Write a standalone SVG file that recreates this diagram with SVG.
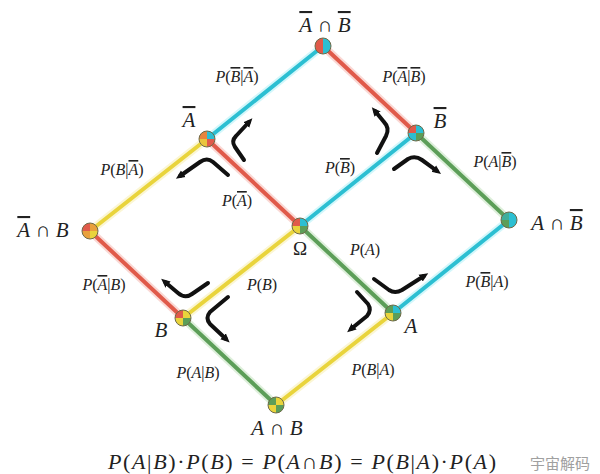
<svg xmlns="http://www.w3.org/2000/svg" xmlns:xlink="http://www.w3.org/1999/xlink" width="600" height="474" viewBox="0 0 600 474">
<style>
  .glow { stroke-width: 8; stroke-linecap: round; fill: none; opacity: 0.45; }
  .edge { stroke-width: 4; stroke-linecap: round; fill: none; }
  .red { stroke: #e05a4a; }
  .cyan { stroke: #2cbfd2; }
  .yel { stroke: #e9d43c; }
  .grn { stroke: #5c9e58; }
  .gred { stroke: #f4a9a0; }
  .gcyan { stroke: #9eeef7; }
  .gyel { stroke: #f7eca0; }
  .ggrn { stroke: #b5dcb0; }
  .ring { fill: none; stroke: #6e6a48; stroke-width: 1; }
  .arr { fill: none; stroke: #111; stroke-width: 4; stroke-linecap: round; stroke-linejoin: round; marker-end: url(#ah); }
  text { font-family: "Liberation Serif", "DejaVu Serif", serif; fill: #222; }
  .lab { font-size: 16px; text-anchor: middle; }
  .big { font-size: 21px; text-anchor: middle; }
  .it { font-style: italic; }
  .ov { text-decoration: overline; }
</style>
<defs>
  <path id="qTL" d="M0,0 L-8,0 A8,8 0 0 1 0,-8 Z"/>
  <path id="qTR" d="M0,0 L0,-8 A8,8 0 0 1 8,0 Z"/>
  <path id="qBR" d="M0,0 L8,0 A8,8 0 0 1 0,8 Z"/>
  <path id="qBL" d="M0,0 L0,8 A8,8 0 0 1 -8,0 Z"/>
  <marker id="ah" markerUnits="userSpaceOnUse" markerWidth="10" markerHeight="10" refX="4" refY="5" orient="auto">
    <path d="M0,1 L9,5 L0,9 Z" fill="#111"/>
  </marker>
</defs>
<rect width="600" height="474" fill="#ffffff"/>

<g id="connectors">
  <g id="glows">
    <line class="glow gcyan" x1="323" y1="46" x2="207" y2="139"/>
    <line class="glow gred" x1="323" y1="46" x2="416" y2="133"/>
    <line class="glow gred" x1="207" y1="139" x2="300" y2="226"/>
    <line class="glow gyel" x1="207" y1="139" x2="90" y2="231"/>
    <line class="glow gcyan" x1="416" y1="133" x2="300" y2="226"/>
    <line class="glow ggrn" x1="416" y1="133" x2="509" y2="220"/>
    <line class="glow ggrn" x1="300" y1="226" x2="393" y2="313"/>
    <line class="glow gyel" x1="300" y1="226" x2="183" y2="318"/>
    <line class="glow gred" x1="90" y1="231" x2="183" y2="318"/>
    <line class="glow gcyan" x1="509" y1="220" x2="393" y2="313"/>
    <line class="glow ggrn" x1="183" y1="318" x2="276" y2="405"/>
    <line class="glow gyel" x1="393" y1="313" x2="276" y2="405"/>
  </g>
  <line id="e-top-nA" class="edge cyan" x1="323" y1="46" x2="207" y2="139"/>
  <line id="e-top-nB" class="edge red" x1="323" y1="46" x2="416" y2="133"/>
  <line id="e-nA-omega" class="edge red" x1="207" y1="139" x2="300" y2="226"/>
  <line id="e-nA-nAB" class="edge yel" x1="207" y1="139" x2="90" y2="231"/>
  <line id="e-nB-omega" class="edge cyan" x1="416" y1="133" x2="300" y2="226"/>
  <line id="e-nB-AnB" class="edge grn" x1="416" y1="133" x2="509" y2="220"/>
  <line id="e-omega-A" class="edge grn" x1="300" y1="226" x2="393" y2="313"/>
  <line id="e-omega-B" class="edge yel" x1="300" y1="226" x2="183" y2="318"/>
  <line id="e-nAB-B" class="edge red" x1="90" y1="231" x2="183" y2="318"/>
  <line id="e-AnB-A" class="edge cyan" x1="509" y1="220" x2="393" y2="313"/>
  <line id="e-B-AB" class="edge grn" x1="183" y1="318" x2="276" y2="405"/>
  <line id="e-A-AB" class="edge yel" x1="393" y1="313" x2="276" y2="405"/>
</g>

<g id="flow-arrows">
  <path class="arr" d="M244,160 L235,147 Q231,141 236,136 L249,122"/>
  <path class="arr" d="M228,175 L213,162 Q207,157 200,162 L180,176"/>
  <path class="arr" d="M377,153 L386,136 Q390,128 384,122 L375,111"/>
  <path class="arr" d="M394,169 L408,159 Q415,155 422,160 L437,171"/>
  <path class="arr" d="M208,283 L192,294 Q185,299 178,293 L165,282"/>
  <path class="arr" d="M228,297 L210,312 Q205,318 210,324 L226,339"/>
  <path class="arr" d="M374,279 L389,290 Q395,294 402,290 L424,276"/>
  <path class="arr" d="M357,292 L368,304 Q372,310 367,316 L351,329"/>
</g>

<g id="node-notA-notB" transform="translate(323,46)">
  <use href="#qTL" fill="#e05a4a"/><use href="#qTR" fill="#2cbfd2"/><use href="#qBR" fill="#2cbfd2"/><use href="#qBL" fill="#e05a4a"/>
  <circle class="ring" r="8"/>
</g>
<g id="node-notA" transform="translate(207,139)">
  <use href="#qTL" fill="#e8843e"/><use href="#qTR" fill="#2cbfd2"/><use href="#qBR" fill="#e05a4a"/><use href="#qBL" fill="#e9c43c"/>
  <circle class="ring" r="8"/>
</g>
<g id="node-notB" transform="translate(416,133)">
  <use href="#qTL" fill="#e05a4a"/><use href="#qTR" fill="#2cbfd2"/><use href="#qBR" fill="#5c9e58"/><use href="#qBL" fill="#2cbfd2"/>
  <circle class="ring" r="8"/>
</g>
<g id="node-notA-B" transform="translate(90,231)">
  <use href="#qTL" fill="#e05a4a"/><use href="#qTR" fill="#e9a03c"/><use href="#qBR" fill="#e9d43c"/><use href="#qBL" fill="#e9a03c"/>
  <circle class="ring" r="8"/>
</g>
<g id="node-omega" transform="translate(300,226)">
  <use href="#qTL" fill="#e05a4a"/><use href="#qTR" fill="#2cbfd2"/><use href="#qBR" fill="#5c9e58"/><use href="#qBL" fill="#e9d43c"/>
  <circle class="ring" r="8"/>
</g>
<g id="node-A-notB" transform="translate(509,220)">
  <use href="#qTL" fill="#3fae9a"/><use href="#qTR" fill="#2cbfd2"/><use href="#qBR" fill="#2cbfd2"/><use href="#qBL" fill="#5c9e58"/>
  <circle class="ring" r="8"/>
</g>
<g id="node-B" transform="translate(183,318)">
  <use href="#qTL" fill="#e05a4a"/><use href="#qTR" fill="#e9d43c"/><use href="#qBR" fill="#5c9e58"/><use href="#qBL" fill="#e9d43c"/>
  <circle class="ring" r="8"/>
</g>
<g id="node-A" transform="translate(393,313)">
  <use href="#qTL" fill="#5c9e58"/><use href="#qTR" fill="#2cbfd2"/><use href="#qBR" fill="#5c9e58"/><use href="#qBL" fill="#e9d43c"/>
  <circle class="ring" r="8"/>
</g>
<g id="node-A-B" transform="translate(276,405)">
  <use href="#qTL" fill="#5c9e58"/><use href="#qTR" fill="#e9d43c"/><use href="#qBR" fill="#5c9e58"/><use href="#qBL" fill="#e9d43c"/>
  <circle class="ring" r="8"/>
</g>

<g id="node-labels">
  <text class="big" x="325" y="32"><tspan class="it ov">A</tspan> ∩ <tspan class="it ov">B</tspan></text>
  <text class="big" x="189" y="127"><tspan class="it ov">A</tspan></text>
  <text class="big" x="440" y="128"><tspan class="it ov">B</tspan></text>
  <text class="big" x="43" y="237"><tspan class="it ov">A</tspan> ∩ <tspan class="it">B</tspan></text>
  <text class="big" x="300" y="255" style="font-size:19px">Ω</text>
  <text class="big" x="557" y="230"><tspan class="it">A</tspan> ∩ <tspan class="it ov">B</tspan></text>
  <text class="big" x="161" y="337"><tspan class="it">B</tspan></text>
  <text class="big" x="411" y="333"><tspan class="it">A</tspan></text>
  <text class="big" x="277" y="435"><tspan class="it">A</tspan> ∩ <tspan class="it">B</tspan></text>
</g>

<g id="edge-labels">
  <text class="lab" x="237" y="82"><tspan class="it">P</tspan>(<tspan class="it ov">B</tspan>|<tspan class="it ov">A</tspan>)</text>
  <text class="lab" x="404" y="82"><tspan class="it">P</tspan>(<tspan class="it ov">A</tspan>|<tspan class="it ov">B</tspan>)</text>
  <text class="lab" x="122" y="175"><tspan class="it">P</tspan>(<tspan class="it">B</tspan>|<tspan class="it ov">A</tspan>)</text>
  <text class="lab" x="237" y="206"><tspan class="it">P</tspan>(<tspan class="it ov">A</tspan>)</text>
  <text class="lab" x="340" y="173"><tspan class="it">P</tspan>(<tspan class="it ov">B</tspan>)</text>
  <text class="lab" x="495" y="167"><tspan class="it">P</tspan>(<tspan class="it">A</tspan>|<tspan class="it ov">B</tspan>)</text>
  <text class="lab" x="365" y="255"><tspan class="it">P</tspan>(<tspan class="it">A</tspan>)</text>
  <text class="lab" x="487" y="287"><tspan class="it">P</tspan>(<tspan class="it ov">B</tspan>|<tspan class="it">A</tspan>)</text>
  <text class="lab" x="104" y="290"><tspan class="it">P</tspan>(<tspan class="it ov">A</tspan>|<tspan class="it">B</tspan>)</text>
  <text class="lab" x="262" y="290"><tspan class="it">P</tspan>(<tspan class="it">B</tspan>)</text>
  <text class="lab" x="198" y="378"><tspan class="it">P</tspan>(<tspan class="it">A</tspan>|<tspan class="it">B</tspan>)</text>
  <text class="lab" x="373" y="375"><tspan class="it">P</tspan>(<tspan class="it">B</tspan>|<tspan class="it">A</tspan>)</text>
</g>

<g id="formula">
  <text x="108" y="469" style="font-size:22px" textLength="388" lengthAdjust="spacing"><tspan class="it">P</tspan>(<tspan class="it">A</tspan>|<tspan class="it">B</tspan>)·<tspan class="it">P</tspan>(<tspan class="it">B</tspan>) = <tspan class="it">P</tspan>(<tspan class="it">A</tspan>∩<tspan class="it">B</tspan>) = <tspan class="it">P</tspan>(<tspan class="it">B</tspan>|<tspan class="it">A</tspan>)·<tspan class="it">P</tspan>(<tspan class="it">A</tspan>)</text>
  <text x="530" y="469" style="font-size:15px;fill:#a0a0a0;font-family:'Noto Sans CJK SC',sans-serif">宇宙解码</text>
</g>
</svg>
